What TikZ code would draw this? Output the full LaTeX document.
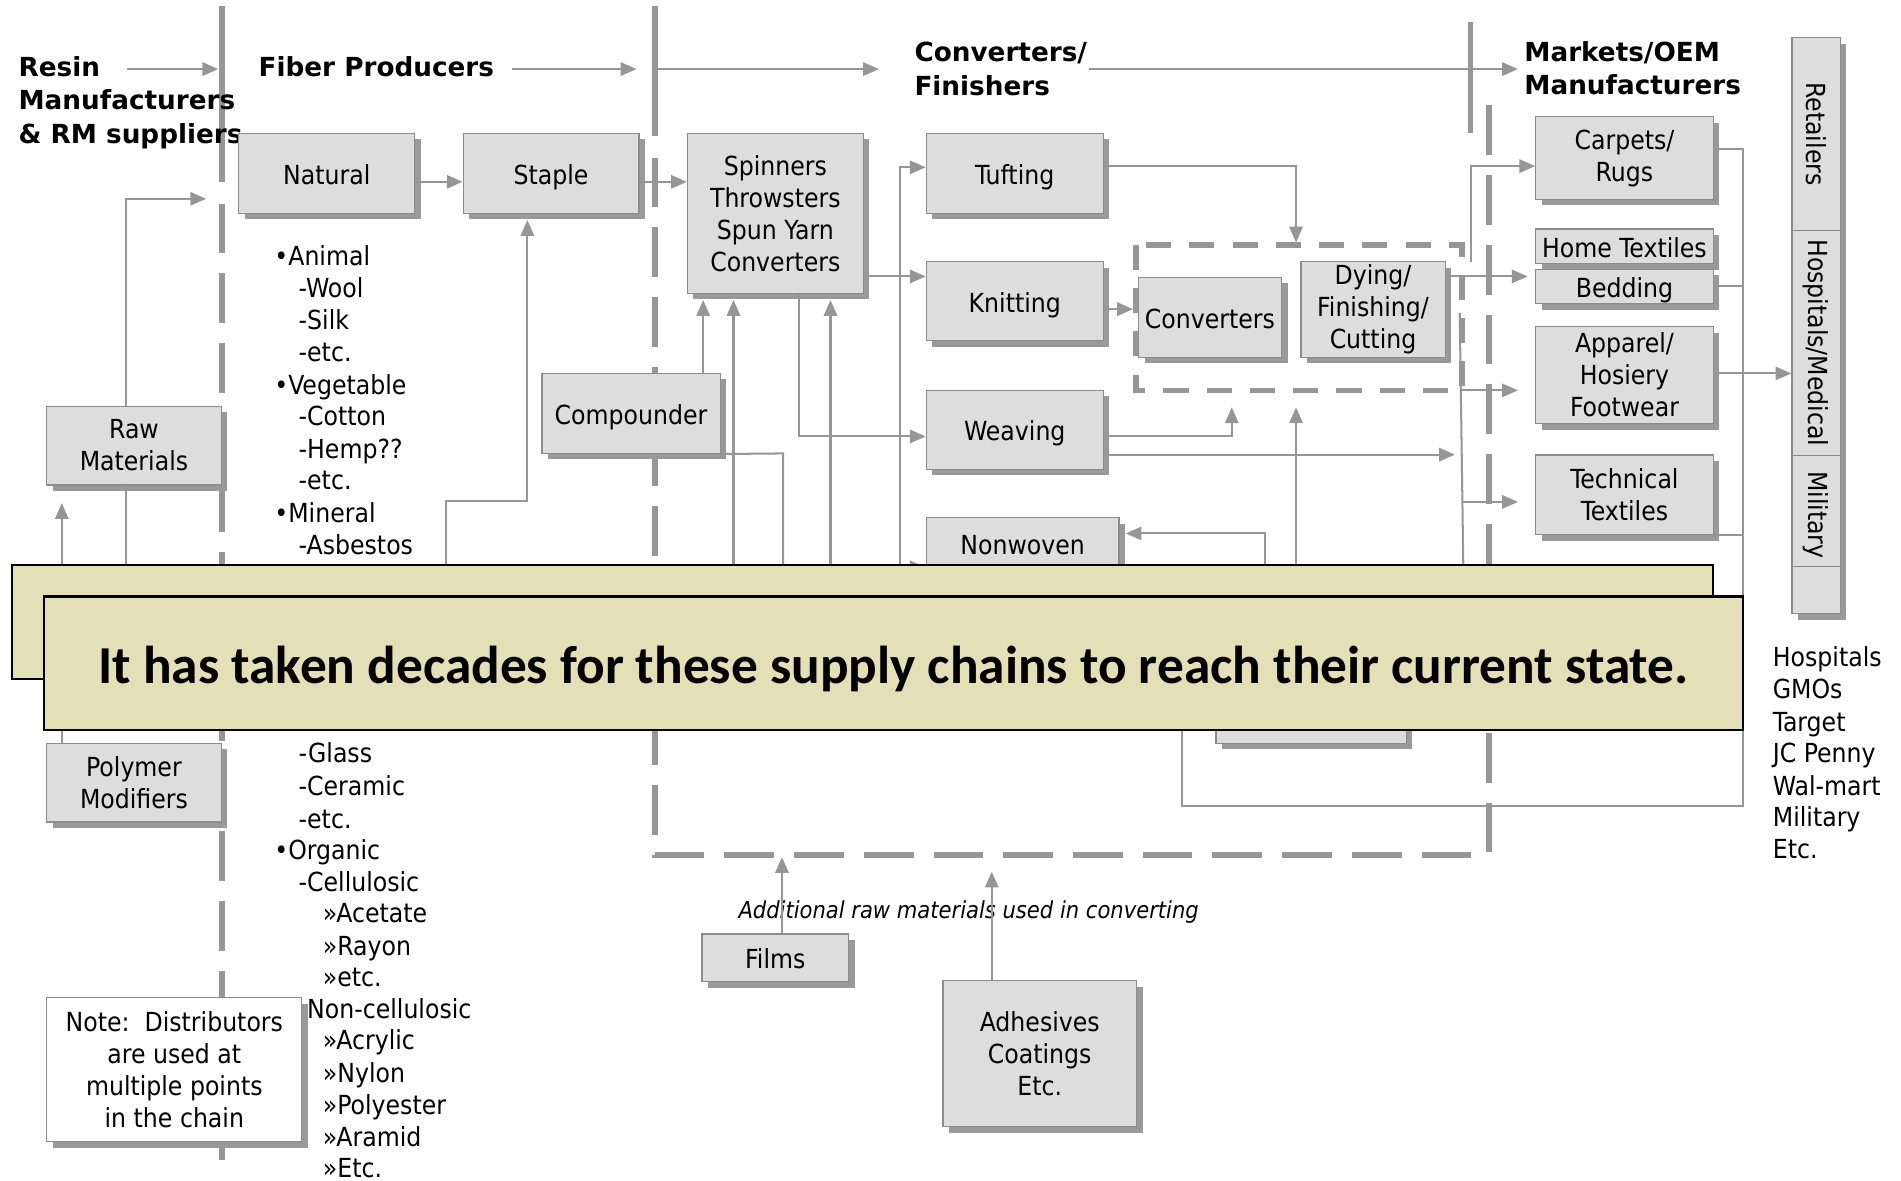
\documentclass[tikz,border=0pt]{standalone}
\usepackage{fontspec}
\setmainfont{DejaVu Sans Condensed}
\newfontfamily\itfam{DejaVu Sans Condensed Oblique}
\newfontfamily\hdfam{DejaVu Sans Bold}
\newfontfamily\calib{Carlito}[BoldFont={Carlito Bold}]
\usetikzlibrary{arrows.meta,shadows}
\definecolor{boxgray}{RGB}{221,221,221}
\definecolor{bordgray}{RGB}{140,140,140}
\definecolor{shgray}{RGB}{153,153,153}
\definecolor{lgray}{RGB}{150,150,150}
\definecolor{khaki}{RGB}{227,223,183}
\newcommand\boxfont{\fontsize{13}{15.8}\selectfont}
\newcommand\hdfont{\hdfam\fontsize{13}{16}\selectfont}
\newcommand\itfont{\itfam\fontsize{11.6}{14}\selectfont}
\tikzset{
  gbase/.style={draw=bordgray, fill=boxgray, line width=0.6pt, inner sep=0pt, align=center, font=\boxfont,
    general shadow={fill=shgray, shadow xshift=3pt, shadow yshift=-3pt}},
  gb/.style={gbase, execute at begin node={\rule{0pt}{13pt}}},
  gone/.style={gbase, execute at begin node={\rule{0pt}{14pt}},
    execute at end node={\rule[-3.1pt]{0pt}{0pt}}},
  wb/.style={gb, fill=white},
  sz/.style 2 args={minimum width=#1*0.6pt, minimum height=#2*0.6pt},
  con/.style={draw=lgray, line width=1pt},
  arr/.style={con, -{Triangle[length=7.8pt,width=6.6pt]}},
  tl/.style={draw=lgray, line width=2.8pt},
  dl/.style={tl, dash pattern=on 24.6pt off 9.9pt},
  idl/.style={tl, dash pattern=on 12.4pt off 9pt},
  lst/.style={anchor=base west, inner sep=0pt, font=\boxfont},
  hd/.style={anchor=base west, inner sep=0pt, font=\hdfont},
  ov/.style={draw=black, fill=khaki, line width=1pt, inner sep=0pt},
}
\begin{document}
\begin{tikzpicture}[x=0.6pt, y=-0.6pt]
\useasboundingbox (0,0) rectangle (1568,974);
\fill[white] (0,0) rectangle (1568,974);

% ---- thick separators
\draw[tl] (183,5) -- (183,150);
\draw[dl] (183,168) -- (183,958);
\draw[tl] (540,5) -- (540,112);
\draw[dl] (540,130) -- (540,705) -- (1228,705) -- (1228,85);
\draw[tl] (1213,18) -- (1213,110);
\draw[idl] (937,202) rectangle (1206,322);

% ---- headings
\node[hd] (hr1) at (15,63) {Resin};
\node[hd] (hr2) at (15,90.5) {Manufacturers};
\node[hd] (hr3) at (15,118) {\& RM suppliers};
\node[hd] (hf) at (213,63) {Fiber Producers};
\node[hd] (hc1) at (754,50.6) {Converters/};
\node[hd] (hc2) at (754,79) {Finishers};
\node[hd] (hm1) at (1257,50.7) {Markets/OEM};
\node[hd] (hm2) at (1257,78) {Manufacturers};

\coordinate (a1s) at (105,57); \coordinate (a1e) at (180,57);
\coordinate (a2s) at (422,57); \coordinate (a2e) at (525,57);
\coordinate (a3s) at (543,57); \coordinate (a3e) at (725,57);
\coordinate (a4s) at (898,57); \coordinate (a4e) at (1252,57);
\draw[arr] (a1s) -- (a1e);
\draw[arr] (a2s) -- (a2e);
\draw[arr] (a3s) -- (a3e);
\draw[arr] (a4s) -- (a4e);

% ---- fiber lists
\foreach \t/\x/\y [count=\i] in {{•Animal}/226/211, {-Wool}/246/237.5, {-Silk}/246/264, {-etc.}/246/290,
  {•Vegetable}/226/317, {-Cotton}/246/343, {-Hemp??}/246/370, {-etc.}/246/396,
  {•Mineral}/226/423, {-Asbestos}/246/449}
  \node[lst] (ua\i) at ({\x},{\y+8}) {\t};
\foreach \t/\x/\y [count=\i] in {{-Glass}/246/621, {-Ceramic}/246/648, {-etc.}/246/675,
  {•Organic}/226/701, {-Cellulosic}/246/727, {»Acetate}/266/753, {»Rayon}/266/780, {»etc.}/266/806,
  {-Non-cellulosic}/246/832, {»Acrylic}/266/858, {»Nylon}/266/885, {»Polyester}/266/911,
  {»Aramid}/266/938, {»Etc.}/266/963}
  \node[lst] (la\i) at ({\x},{\y+8}) {\t};

% ---- boxes
\node[gone, sz={145}{66}] (nat) at (269.5,143) {Natural};
\node[gone, sz={145}{66}] (stp) at (454.5,143) {Staple};
\node[gb, sz={145}{132}] (spin) at (639.5,176) {Spinners\\Throwsters\\Spun Yarn\\Converters};
\node[gone, sz={146}{66}] (tuft) at (837,143) {Tufting};
\node[gone, sz={146}{65}] (knit) at (837,248.5) {Knitting};
\node[gone, sz={146}{65}] (weav) at (837,354.5) {Weaving};
\node[gone, sz={159}{42}] (nonw) at (843.5,448) {Nonwoven};
\node[gone, sz={118}{66}] (conv) at (998,261.6) {Converters};
\node[gb, sz={119}{78.6}] (dye) at (1132.5,255.3) {Dying/\\Finishing/\\Cutting};
\node[gone, sz={147}{66}] (comp) at (520.5,341) {Compounder};
\node[gb, sz={144}{65}] (raw) at (110.5,367.5) {Raw\\Materials};
\node[gb, sz={144}{65}] (poly) at (110.5,645.5) {Polymer\\Modifiers};
\node[wb, sz={210.4}{118.7}] (note) at (143.8,882.4) {Note:\ \ Distributors\\are used at\\multiple points\\in the chain};
\node[gone, sz={121}{39.3}] (films) at (639.5,790) {Films};
\node[gb, sz={159.7}{120.3}] (adh) at (857.6,869) {Adhesives\\Coatings\\Etc.};
\node[gb, sz={146.3}{68}] (carp) at (1339.9,130.4) {Carpets/\\Rugs};
\node[gone, sz={146.3}{26.8}] (home) at (1339.9,203.1) {Home Textiles};
\node[gone, sz={146.3}{26.8}] (bed) at (1339.9,236.3) {Bedding};
\node[gb, sz={146.3}{80}] (app) at (1339.9,309.4) {Apparel/\\Hosiery\\Footwear};
\node[gb, sz={146.3}{65.7}] (tech) at (1339.9,408.2) {Technical\\Textiles};
\node[gbase, sz={157}{73}] (mfg) at (1081.5,576.5) {};

% right bar
\node[gbase, sz={40}{159}] (ret) at (1498,110.5) {};
\node[gbase, sz={40}{185.6}] (hosp) at (1498,282.8) {};
\node[gbase, sz={40}{91.4}] (mil) at (1498,421.3) {};
\node[gbase, sz={40}{39}] (blank) at (1498,486.5) {};
\node[rotate=-90, font=\boxfont, inner sep=0pt] (retl) at (ret.center) {Retailers};
\node[rotate=-90, font=\boxfont, inner sep=0pt] (hospl) at (hosp.center) {Hospitals/Medical};
\node[rotate=-90, font=\boxfont, inner sep=0pt] (mill) at ([yshift=-2pt]mil.center) {Military};

% right list
\foreach \t/\y [count=\i] in {Hospitals/542, GMOs/568, Target/595, JC Penny/621, Wal-mart/648, Military/674, Etc./700}
  \node[lst] (rl\i) at (1462,{\y+8}) {\t};

\node[font=\itfont, inner sep=0pt] (addl) at (799,752) {Additional raw materials used in converting};

% ---- connectors
\draw[arr] (nat.east |- 0,150) -- (stp.west |- 0,150);
\draw[arr] (stp.east |- 0,150) -- (spin.west |- 0,150);
\draw[arr] (spin.east |- 0,228) -- (knit.west |- 0,228);
\coordinate (f742) at (742,540);
\draw[arr] (f742) -- (742,138) -- (tuft.west |- 0,138);
\draw[arr] (742,468) -- (nonw.west |- 0,468);
\draw[arr] (spin.south -| 659,0) -- (659,360) -- (weav.west |- 0,360);
\draw[arr, shorten >=3pt] (comp.north -| 580,0) -- (spin.south -| 580,0);
\coordinate (f605) at (605,540);
\coordinate (f685) at (685,540);
\draw[arr, shorten >=3pt] (f605) -- (spin.south -| 605,0);
\draw[arr, shorten >=3pt] (f685) -- (spin.south -| 685,0);
\coordinate (f646) at (646,540);
\draw[con] (comp.south east) -- (646,374) -- (f646);
\coordinate (f368) at (368,540);
\draw[arr, shorten >=3pt] (f368) -- (368,413) -- (435,413) -- (stp.south -| 435,0);
\draw[arr] (raw.north -| 104,0) -- (104,164) -- (170,164);
\coordinate (f104) at (104,540);
\draw[con] (raw.south -| 104,0) -- (f104);
\coordinate (p51) at (51,415);
\draw[arr] (poly.north -| 51,0) -- (p51);
\draw[arr] (tuft.east |- 0,137) -- (1069,137) -- (1069,200);
\draw[arr, shorten >=2.4pt] (knit.east |- 0,255) -- (conv.west |- 0,255);
\draw[arr] (weav.east |- 0,360) -- (1016,360) -- (1016,336);
\draw[arr] (weav.east |- 0,375) -- (1200,375);
\coordinate (f1069) at (1069,540);
\draw[arr] (f1069) -- (1069,336);
\coordinate (f1043) at (1043,540);
\draw[arr, shorten >=3pt] (f1043) -- (1043,440) -- (nonw.east |- 0,440);
\draw[arr] (dye.east |- 0,228) -- (1260,228);
\draw[arr] (1213,216) -- (1213,137) -- (carp.west |- 0,137);
\coordinate (s1) at (1204,258); \coordinate (s2) at (1208,540);
\draw[con] (s1) -- (s2);
\draw[arr] (1206,322) -- (1252,322);
\draw[arr] (1206,414) -- (1252,414);
\coordinate (f975) at (975,560);
\draw[con] (carp.east |- 0,123) -- (1438,123) -- (1438,665) -- (975,665) -- (f975);
\draw[con] (bed.east) -- (bed.east -| 1438,0);
\draw[arr] (app.east |- 0,308) -- (hosp.west |- 0,308);
\draw[con] (tech.south east) -- (tech.south east -| 1438,0);
\draw[arr] (films.north -| 645,0) -- (645,707);
\draw[arr] (adh.north -| 818,0) -- (818,719);

% ---- overlay banner
\node[ov, sz={1403}{94}] (ov1) at (711.5,513) {};
\node[ov, sz={1402}{110}] (ov2) at (737,547) {\calib\bfseries\fontsize{26.4}{30}\selectfont\rule{0pt}{24pt}It has taken decades for these supply chains to reach their current state.};
\end{tikzpicture}
\end{document}
